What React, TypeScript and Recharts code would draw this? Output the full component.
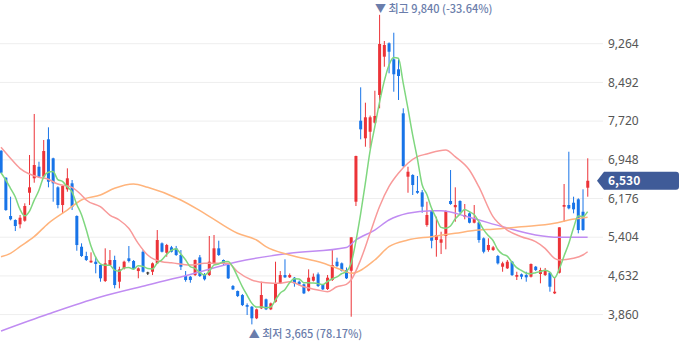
import React from 'react';
import { ComposedChart, Bar, Line, XAxis, YAxis, CartesianGrid, ReferenceDot } from 'recharts';

// daily candles, oldest first
const opens = [
  7129, 6591, 5827, 5747, 5661, 5733, 6291, 6579, 6810, 6611,
  7357, 6978, 6399, 6046, 6359, 6479, 5827, 5214, 5029, 4903,
  4915, 4849, 4530, 4849, 4949, 4516, 4783, 4983, 4929, 4729,
  5114, 4700, 4715, 4883, 5282, 5094, 5202, 5182, 5049, 4630,
  4616, 4649, 5002, 4670, 4649, 4883, 5182, 4949, 4849, 4430,
  4330, 4250, 4050, 4017, 3786, 3985, 4165, 3965, 4117, 4484,
  4649, 4604, 4596, 4516, 4464, 4336, 4536, 4663, 4450, 4370,
  4550, 4915, 4883, 4749, 4735, 6112, 7728, 7377, 7508, 7688,
  8241, 9005, 9272, 8953, 8753, 7875, 6611, 6645, 6325, 6299,
  5647, 5926, 5348, 5294, 5428, 6126, 6002, 6126, 5813, 5880,
  5693, 5700, 5382, 5148, 5148, 5029, 4815, 4783, 4915, 4616,
  4663, 4649, 4616, 4815, 4670, 4649, 4695, 4284, 4695, 6012,
  6046, 6092, 6160, 5912, 6391,
];
const highs = [
  7140, 6600, 6212, 5760, 5847, 6080, 7044, 7862, 6910, 7343,
  7596, 6990, 6420, 6440, 6778, 6545, 5840, 5282, 5114, 5102,
  5015, 4860, 5182, 5148, 5035, 4815, 4935, 5228, 4949, 4800,
  5148, 4715, 4900, 5547, 5300, 5270, 5230, 5230, 5148, 4729,
  4630, 4960, 5049, 4690, 5428, 5448, 5334, 4960, 4880, 4450,
  4340, 4270, 4084, 4030, 3980, 4516, 4180, 4100, 4915, 4729,
  4963, 4680, 4610, 4540, 4480, 4763, 4680, 4700, 4470, 4650,
  5148, 4995, 4900, 4800, 5402, 7030, 8394, 8087, 7830, 8326,
  9840, 9318, 9290, 9483, 8953, 7975, 6810, 6660, 6625, 6345,
  6112, 5950, 5813, 5513, 5940, 6744, 6399, 6140, 6066, 5900,
  6046, 5720, 5400, 5382, 5230, 5050, 4915, 4950, 4930, 4715,
  4680, 4715, 4880, 4830, 4795, 4790, 4710, 4604, 5601, 6465,
  7109, 6212, 6180, 6359, 6978,
];
const lows = [
  6680, 5930, 5740, 5527, 5581, 5713, 6046, 6491, 6590, 6579,
  6399, 6112, 5980, 5880, 6311, 5946, 5134, 5010, 4930, 4890,
  4683, 4516, 4510, 4830, 4384, 4384, 4760, 4900, 4750, 4584,
  4700, 4650, 4649, 4870, 5100, 5015, 5100, 5030, 4749, 4516,
  4496, 4630, 4610, 4540, 4630, 4860, 5030, 4850, 4570, 4350,
  4210, 4030, 3852, 3665, 3770, 3970, 3950, 3950, 4100, 4470,
  4590, 4590, 4416, 4440, 4270, 4320, 4520, 4410, 4350, 4350,
  4530, 4810, 4720, 4570, 3818, 6026, 7357, 7209, 7177, 7670,
  7975, 8805, 8673, 8306, 8141, 6800, 6291, 6246, 6270, 5892,
  5613, 5182, 5015, 5068, 5162, 6050, 5713, 5846, 5760, 5680,
  5680, 5294, 5082, 5114, 5130, 4860, 4715, 4770, 4630, 4550,
  4566, 4516, 4600, 4730, 4484, 4630, 4317, 4270, 4680, 5713,
  5960, 5880, 5481, 5533, 6212,
];
const closes = [
  6690, 5946, 5761, 5627, 5793, 6026, 6399, 6844, 6611, 7123,
  6511, 6479, 6046, 6425, 6579, 6012, 5248, 5029, 4949, 4935,
  4869, 4584, 4883, 4949, 4450, 4763, 4915, 4929, 4769, 4783,
  4715, 4700, 4883, 5348, 5114, 5248, 5114, 5049, 4815, 4550,
  4550, 4949, 4630, 4564, 4915, 5182, 5049, 4869, 4584, 4364,
  4230, 4050, 4017, 3786, 3965, 4251, 3965, 4084, 4484, 4649,
  4604, 4649, 4484, 4464, 4284, 4596, 4616, 4430, 4364, 4596,
  4849, 4829, 4735, 4584, 5402, 7024, 7556, 7796, 7796, 7822,
  9258, 9238, 9104, 8654, 8620, 6824, 6710, 6445, 6291, 6012,
  5847, 5334, 5448, 5361, 5926, 6066, 6046, 5912, 5847, 5693,
  5780, 5348, 5114, 5248, 5202, 4883, 4883, 4915, 4649, 4649,
  4616, 4604, 4869, 4749, 4749, 4749, 4416, 4317, 5601, 6046,
  5980, 5960, 5547, 5547, 6530,
];

// 5-day average, one value per candle
const ma5 = [
  6690, 6545, 6380, 6212, 5963, 5831, 5921, 6138, 6335, 6601,
  6698, 6714, 6554, 6517, 6408, 6308, 6062, 5859, 5563, 5235,
  5006, 4873, 4844, 4844, 4747, 4726, 4792, 4801, 4765, 4832,
  4822, 4779, 4770, 4886, 4952, 5059, 5141, 5175, 5068, 4955,
  4816, 4783, 4699, 4649, 4722, 4848, 4868, 4916, 4920, 4810,
  4619, 4419, 4249, 4089, 4010, 4014, 3997, 4010, 4150, 4287,
  4357, 4494, 4574, 4570, 4497, 4495, 4489, 4478, 4458, 4520,
  4571, 4614, 4675, 4719, 4880, 5315, 5860, 6472, 7115, 7599,
  8087, 8512, 8836, 8990, 8975, 8488, 7982, 7451, 6978, 6456,
  6261, 5986, 5786, 5600, 5583, 5627, 5769, 5862, 5959, 5913,
  5856, 5716, 5556, 5437, 5338, 5159, 5066, 5026, 4906, 4796,
  4742, 4687, 4677, 4697, 4717, 4744, 4706, 4596, 4766, 5026,
  5272, 5581, 5827, 5816, 5913,
];

// [candle index, value]
const ma20: [number, number][] = [
  [0, 7197], [2, 6978], [4, 6778], [6, 6664], [8, 6599], [10, 6559], [12, 6465], [15, 6399],
  [17, 6246], [18, 6146], [21, 6012], [23, 5846], [25, 5747], [27, 5581], [29, 5282], [31, 5050],
  [34, 4915], [36, 4895], [40, 4849], [43, 4883], [48, 4883], [50, 4715], [53, 4550], [56, 4496],
  [59, 4484], [61, 4516], [64, 4416], [67, 4350], [69, 4317], [71, 4416], [73, 4464], [74, 4550],
  [76, 4949], [78, 5482], [80, 6012], [82, 6411], [84, 6678], [86, 6878], [88, 7010], [90, 7064],
  [94, 7143], [96, 7010], [99, 6744], [101, 6411], [104, 5813], [107, 5547], [110, 5414],
  [113, 5314], [115, 5182], [117, 4983], [118, 4949], [121, 4983], [123, 5049], [124, 5114],
];
const ma60: [number, number][] = [
  [0, 5015], [2, 5082], [4, 5214], [7, 5414], [10, 5681], [14, 5946], [17, 6146], [21, 6246],
  [24, 6379], [28, 6465], [31, 6399], [38, 6146], [43, 5880], [50, 5482], [54, 5348], [56, 5214],
  [61, 5049], [68, 4890], [73, 4715], [74, 4683], [79, 4949], [82, 5214], [86, 5348], [91, 5414],
  [96, 5482], [101, 5547], [104, 5561], [110, 5613], [117, 5681], [120, 5747], [124, 5800],
];
const ma120: [number, number][] = [
  [0, 3532], [10, 3871], [21, 4211], [31, 4450], [40, 4660], [50, 4915], [61, 5082], [73, 5200],
  [75, 5348], [79, 5547], [82, 5747], [86, 5880], [91, 5932], [93, 5932], [99, 5800],
  [106, 5613], [113, 5448], [118, 5402], [124, 5402],
];

const yTicks = [3860, 4632, 5404, 6176, 6948, 7720, 8492, 9264];

const UP = '#ec3338';
const DOWN = '#1874e8';
const FONT = '"Noto Sans CJK KR", "Noto Sans", sans-serif';

const lookup = (pts: [number, number][], i: number) => {
  const p = pts.find((q) => q[0] === i);
  return p ? p[1] : null;
};

const data = closes.map((c, i) => ({
  i,
  o: opens[i],
  h: highs[i],
  l: lows[i],
  c,
  range: [lows[i], highs[i]],
  ma5: ma5[i],
  ma20: lookup(ma20, i),
  ma60: lookup(ma60, i),
  ma120: lookup(ma120, i),
}));

const Candle = (props: any) => {
  const { x, y, width, height, payload } = props;
  const { o, h, l, c } = payload;
  const span = h - l || 1;
  const toY = (v: number) => y + ((h - v) / span) * height;
  const color = c > o ? UP : c < o ? DOWN : '#222';
  const cx = x + width / 2;
  const top = Math.min(toY(o), toY(c));
  const bh = Math.max(1, Math.abs(toY(o) - toY(c)));
  return (
    <g>
      <line x1={cx} x2={cx} y1={y} y2={y + height} stroke={color} strokeWidth={1} />
      <rect x={cx - 1.5} y={top} width={3} height={bh} fill={color} />
    </g>
  );
};

const HighLabel = (p: any) => (
  <text x={p.cx - 4.5} y={p.cy - 2} fill="#6a7dab" fontSize={11} fontWeight={500} fontFamily={FONT}>
    ▼ 최고 9,840 (-33.64%)
  </text>
);

const LowLabel = (p: any) => (
  <text x={p.cx - 3} y={p.cy + 14} fill="#6a7dab" fontSize={11} fontWeight={500} fontFamily={FONT}>
    ▲ 최저 3,665 (78.17%)
  </text>
);

const PriceTag = (p: any) => {
  const cy = p.cy;
  const d = `M597,${cy} L604,${cy - 9} L676,${cy - 9} Q679,${cy - 9} 679,${cy - 6} L679,${cy + 6} Q679,${cy + 9} 676,${cy + 9} L604,${cy + 9} Z`;
  return (
    <g>
      <path d={d} fill="#3f5b98" />
      <text x={608} y={cy + 4.5} fill="#fff" fontSize={12} fontWeight={600} fontFamily={FONT}>
        6,530
      </text>
    </g>
  );
};

export default function App() {
  return (
    <div style={{ position: 'absolute', left: 0, top: 0, background: '#fff' }}>
      <ComposedChart width={680} height={358} data={data} margin={{ top: 5, right: 0, bottom: 4.7, left: 0 }}>
        <CartesianGrid vertical={false} stroke="#eeeeee" syncWithTicks />
        <XAxis dataKey="i" type="number" domain={[-0.211, 127.25]} allowDataOverflow hide />
        <YAxis
          orientation="right"
          domain={[3088, 10036]}
          ticks={yTicks}
          allowDataOverflow
          axisLine={false}
          tickLine={false}
          tickSize={0}
          tickMargin={5}
          width={77}
          tick={{ fill: '#555', fontSize: 12, fontFamily: '"Noto Sans", sans-serif' }}
          tickFormatter={(v: number) => v.toLocaleString('en-US')}
        />
        <Line dataKey="ma120" type="monotone" stroke="#c08cf2" strokeWidth={1.5} dot={false} connectNulls isAnimationActive={false} />
        <Line dataKey="ma60" type="monotone" stroke="#ffb47c" strokeWidth={1.5} dot={false} connectNulls isAnimationActive={false} />
        <Line dataKey="ma20" type="monotone" stroke="#f89a9a" strokeWidth={1.5} dot={false} connectNulls isAnimationActive={false} />
        <Line dataKey="ma5" type="monotone" stroke="#7fd77f" strokeWidth={1.5} dot={false} connectNulls isAnimationActive={false} />
        <Bar dataKey="range" barSize={3} shape={Candle} isAnimationActive={false} />
        <ReferenceDot x={80} y={9840} r={0} shape={HighLabel} />
        <ReferenceDot x={53} y={3665} r={0} shape={LowLabel} />
        <ReferenceDot x={124} y={6530} r={0} shape={PriceTag} />
      </ComposedChart>
    </div>
  );
}
